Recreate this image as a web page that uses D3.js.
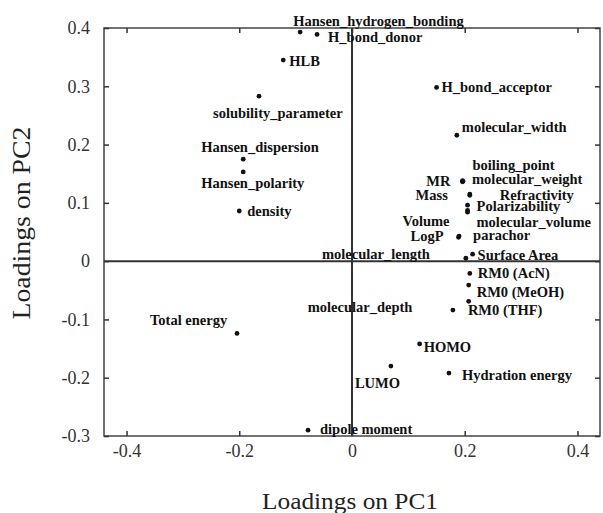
<!DOCTYPE html>
<html>
<head>
    <meta charset="utf-8">
    <title>Loadings PC1 vs PC2</title>
    <script src="https://cdn.jsdelivr.net/npm/d3@7"></script>
    <style>
        body{ margin:0; background:#fff; }
        svg{ display:block; }
    </style>
</head>
<body>
<svg width="603" height="513"></svg>
<script>
// variable names and their loadings
var names = ["Hansen_hydrogen_bonding", "H_bond_donor", "HLB", "solubility_parameter",
    "Hansen_dispersion", "Hansen_polarity", "density", "Total energy", "dipole moment",
    "LUMO", "HOMO", "Hydration energy", "RM0 (THF)", "molecular_depth", "RM0 (MeOH)",
    "RM0 (AcN)", "molecular_length", "Surface Area", "LogP", "parachor", "Volume",
    "molecular_volume", "Polarizability", "Mass", "Refractivity", "MR", "molecular_weight",
    "boiling_point", "molecular_width", "H_bond_acceptor"];
var pc1 = [-0.092, -0.062, -0.122, -0.165, -0.193, -0.193, -0.200, -0.204, -0.078,
    0.069, 0.120, 0.172, 0.179, 0.207, 0.207, 0.209, 0.202, 0.214, 0.189, 0.190, 0.205,
    0.205, 0.205, 0.209, 0.209, 0.196, 0.197, 0.196, 0.186, 0.150];
var pc2 = [0.393, 0.389, 0.345, 0.283, 0.175, 0.153, 0.086, -0.124, -0.290,
    -0.180, -0.142, -0.192, -0.084, -0.069, -0.041, -0.021, 0.005, 0.012, 0.041, 0.043, 0.084,
    0.087, 0.096, 0.113, 0.115, 0.136, 0.137, 0.138, 0.216, 0.298];
var xTicks = [-0.4, -0.2, 0, 0.2, 0.4];
var yTicks = [-0.3, -0.2, -0.1, 0, 0.1, 0.2, 0.3, 0.4];
var xTitle = "Loadings on PC1";
var yTitle = "Loadings on PC2";

// label placement (anchor, dx, dy in px from the dot), same order as names
var labelPos = [["start",-7,-6],["start",11,8],["start",6,6],["start",-46,22],
    ["start",-42,-7],["start",-42,16],["start",8,5],["start",-87,-8],["start",12,4],
    ["start",-36,22],["start",4,8],["start",13,7],["start",15,5],["start",-161,11],
    ["start",8,12],["start",8,5],["end",-36,1],["start",5,6],["end",-15,4],["start",14,4],
    ["end",-18,14],["start",9,17],["start",9,6],["end",-22,5],["start",30,6],["end",-12,4],
    ["start",9,3],["start",10,-11],["start",5,-3],["start",5,5]];

var svg = d3.select("svg");
var pLeft = 104, pRight = 600, pTop = 28, pBottom = 436;

var x = d3.scaleLinear().domain([-0.44, 0.44]).range([pLeft, pRight]);
var y = d3.scaleLinear().domain([-0.3, 0.4]).range([pBottom, pTop]);
var fmt = function(d){ return d === 0 ? "0" : d.toFixed(1); };

// frame
svg.append("rect")
    .attr("x", pLeft).attr("y", pTop)
    .attr("width", pRight - pLeft).attr("height", pBottom - pTop)
    .attr("fill", "none").attr("stroke", "#444").attr("stroke-width", 1.5);

// axes with inward ticks on all four sides
function styleAxis(g){
    g.select(".domain").remove();
    g.selectAll(".tick line").attr("stroke", "#333").attr("stroke-width", 1.5);
    g.selectAll(".tick text").attr("fill", "#333")
        .style("font-family", "'Liberation Serif', serif").style("font-size", "18px");
}
svg.append("g").attr("transform", "translate(0," + pBottom + ")")
    .call(d3.axisBottom(x).tickValues(xTicks).tickFormat(fmt).tickSizeInner(-5).tickPadding(8))
    .call(styleAxis);
svg.append("g").attr("transform", "translate(" + pLeft + ",0)")
    .call(d3.axisLeft(y).tickValues(yTicks).tickFormat(fmt).tickSizeInner(-5).tickPadding(14))
    .call(styleAxis);
svg.append("g").attr("transform", "translate(0," + pTop + ")")
    .call(d3.axisTop(x).tickValues(xTicks).tickFormat("").tickSizeInner(-5))
    .call(styleAxis);
svg.append("g").attr("transform", "translate(" + pRight + ",0)")
    .call(d3.axisRight(y).tickValues(yTicks).tickFormat("").tickSizeInner(-5))
    .call(styleAxis);

// zero lines
svg.append("line")
    .attr("x1", x(0)).attr("x2", x(0)).attr("y1", pTop).attr("y2", pBottom)
    .attr("stroke", "#333").attr("stroke-width", 2);
svg.append("line")
    .attr("x1", pLeft).attr("x2", pRight).attr("y1", y(0)).attr("y2", y(0))
    .attr("stroke", "#333").attr("stroke-width", 2);

// points
var idx = d3.range(names.length);
svg.selectAll("circle.pt")
    .data(idx)
    .enter()
    .append("circle")
    .attr("class", "pt")
    .attr("cx", function(i){ return x(pc1[i]); })
    .attr("cy", function(i){ return y(pc2[i]); })
    .attr("r", 2.4)
    .attr("fill", "#111");

svg.selectAll("text.lbl")
    .data(idx)
    .enter()
    .append("text")
    .attr("class", "lbl")
    .attr("x", function(i){ return x(pc1[i]) + labelPos[i][1]; })
    .attr("y", function(i){ return y(pc2[i]) + labelPos[i][2]; })
    .attr("text-anchor", function(i){ return labelPos[i][0]; })
    .style("font-family", "'Liberation Serif', serif")
    .style("font-weight", "bold")
    .style("font-size", "14.5px")
    .attr("fill", "#111")
    .text(function(i){ return names[i]; });

// titles
svg.append("text")
    .attr("x", 350).attr("y", 509)
    .attr("text-anchor", "middle")
    .attr("textLength", 176).attr("lengthAdjust", "spacingAndGlyphs")
    .style("font-family", "'Liberation Serif', serif").style("font-size", "24px")
    .attr("fill", "#222")
    .text(xTitle);
svg.append("text")
    .attr("transform", "translate(30,223) rotate(-90)")
    .attr("text-anchor", "middle")
    .attr("textLength", 193).attr("lengthAdjust", "spacingAndGlyphs")
    .style("font-family", "'Liberation Serif', serif").style("font-size", "25px")
    .attr("fill", "#222")
    .text(yTitle);
</script>
</body>
</html>
